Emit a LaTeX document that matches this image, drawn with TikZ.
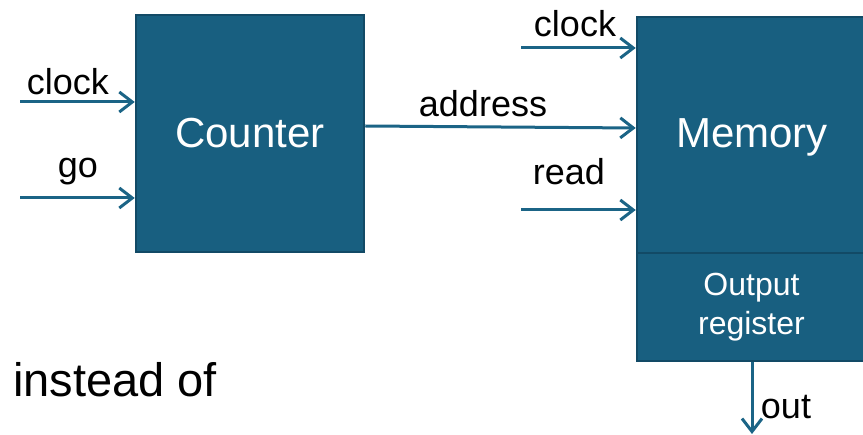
\documentclass[tikz,border=0pt]{standalone}
\usepackage{fontspec}
\setmainfont{Liberation Sans}
\usetikzlibrary{arrows.meta}
\definecolor{boxfill}{HTML}{185F80}
\definecolor{boxedge}{HTML}{124A66}
\definecolor{wire}{HTML}{1B6486}
\tikzset{
  blk/.style={draw=boxedge, fill=boxfill, line width=2.5pt, rectangle, inner sep=0pt, text=white},
  wirearrow/.style={draw=wire, line width=3pt, -{Straight Barb[length=13pt,width=20pt]}},
  lbl/.style={inner sep=0pt, text=black, font=\fontsize{36}{40}\selectfont},
}
\begin{document}
\begin{tikzpicture}[x=1pt,y=-1pt]
\useasboundingbox (0,0) rectangle (863,435);
\clip (0,0) rectangle (863,435);
% blocks
\node[blk, minimum width=228pt, minimum height=237pt, font=\fontsize{42}{46}\selectfont] (counter) at (250,133.5) {Counter};
\node[blk, minimum width=229pt, minimum height=236pt, font=\fontsize{42}{46}\selectfont] (memory) at (751.5,135) {};
\node[text=white, inner sep=0pt, font=\fontsize{42}{46}\selectfont] (memtxt) at (752,137) {Memory};
\node[blk, minimum width=229pt, minimum height=108pt, align=center, font=\fontsize{32}{39}\selectfont] (outreg) at (751.5,307) {Output\\register};
% free ends
\coordinate (cclkin) at (20,102);
\coordinate (goin) at (20,198);
\coordinate (mclkin) at (521,48);
\coordinate (readin) at (521,210);
\coordinate (outend) at (752,434);
\coordinate (addrstart) at (counter.east |- 0,126);
\coordinate (addrend) at (memory.west |- 0,128);
% wires
\draw[wirearrow] (cclkin) -- (counter.west |- cclkin);
\draw[wirearrow] (goin) -- (counter.west |- goin);
\draw[wirearrow] (mclkin) -- (memory.west |- mclkin);
\draw[wirearrow] (readin) -- (memory.west |- readin);
\draw[wirearrow] (addrstart) -- (addrend);
\draw[wirearrow] (outreg.south -| outend) -- (outend);
% labels
\node[lbl] (lclk1) at (68,82) {clock};
\node[lbl] (lgo) at (78,172) {go};
\node[lbl] (lclk2) at (575,24) {clock};
\node[lbl] (lread) at (569,172) {read};
\node[lbl] (laddr) at (483,104) {address};
\node[lbl] (lout) at (786,407) {out};
\node[inner sep=0pt, font=\fontsize{47}{52}\selectfont] (instead) at (115,380) {instead of};
\end{tikzpicture}
\end{document}
